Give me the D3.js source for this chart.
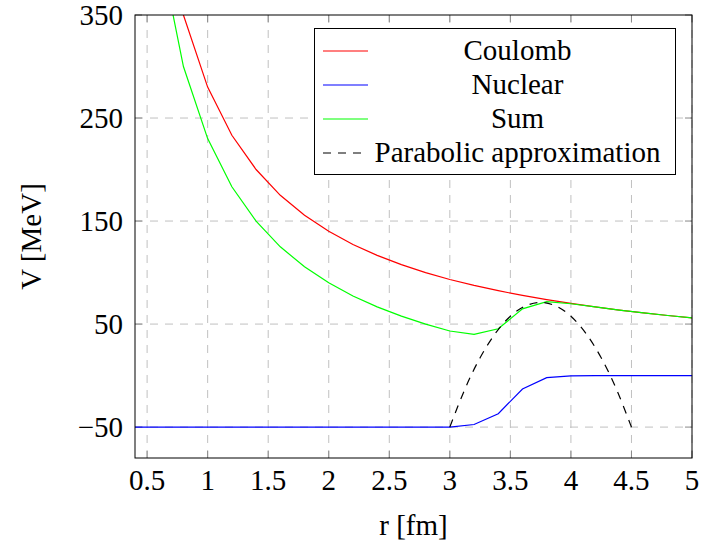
<!DOCTYPE html>
<html>
<head>
<meta charset="utf-8">
<script src="https://cdn.jsdelivr.net/npm/d3@7"></script>
<style>
  body { margin: 0; background: #fff; }
  text { font-family: "Liberation Serif", "DejaVu Serif", serif; fill: #000; }
</style>
</head>
<body>
<div id="chart"></div>
<script>
// radius samples [fm]
var radius = [0.4, 0.6, 0.8, 1.0, 1.2, 1.4, 1.6, 1.8, 2.0, 2.2, 2.4, 2.6, 2.8, 3.0,
              3.2, 3.4, 3.6, 3.8, 4.0, 4.2, 4.4, 4.6, 4.8, 5.0];
var coulomb = [700, 466.7, 350, 280, 233.3, 200, 175, 155.6, 140, 127.3, 116.7, 107.7, 100, 93.3,
               87.5, 82.4, 77.8, 73.7, 70, 66.7, 63.6, 60.9, 58.3, 56];
var nuclear = [-50, -50, -50, -50, -50, -50, -50, -50, -50, -50, -50, -50, -50, -50,
               -47.5, -37, -13, -2, -0.3, 0, 0, 0, 0, 0];
var sum = [650, 416.7, 300, 230, 183.3, 150, 125, 105.6, 90, 77.3, 66.7, 57.7, 50, 43.3,
           40, 45.4, 64.8, 71.7, 69.7, 66.7, 63.6, 60.9, 58.3, 56];

// parabolic approximation around the barrier
var paraR = [3.0, 3.125, 3.25, 3.375, 3.5, 3.625, 3.75, 3.875, 4.0, 4.125, 4.25, 4.375, 4.5];
var paraV = [-50, -13, 17.3, 40.8, 57.6, 67.6, 71, 67.6, 57.6, 40.8, 17.3, -13, -50];

var xTicks = [0.5, 1, 1.5, 2, 2.5, 3, 3.5, 4, 4.5, 5];
var yTicks = [-50, 50, 150, 250, 350];
var legendNames = ['Coulomb', 'Nuclear', 'Sum', 'Parabolic approximation'];
var legendColours = ['#ff0000', '#0000ff', '#00ff00', '#000000'];

var width = 702, height = 550;
var plotLeft = 135, plotRight = 692, plotTop = 15, plotBottom = 458;
var fontSize = 29;

var svg = d3.select('#chart').append('svg')
  .attr('width', width)
  .attr('height', height);

var x = d3.scaleLinear().domain([0.4, 5]).range([plotLeft, plotRight]);
var y = d3.scaleLinear().domain([-80, 350]).range([plotBottom, plotTop]);

svg.append('clipPath').attr('id', 'plotclip')
  .append('rect')
  .attr('x', plotLeft).attr('y', plotTop)
  .attr('width', plotRight - plotLeft).attr('height', plotBottom - plotTop);

// grid
var grid = svg.append('g').attr('stroke', '#c0c0c0').attr('stroke-width', 1)
  .attr('stroke-dasharray', '8,7');
grid.selectAll('.vgrid').data(xTicks).enter().append('line')
  .attr('x1', function(d){ return x(d); }).attr('x2', function(d){ return x(d); })
  .attr('y1', plotBottom).attr('y2', plotTop);
grid.selectAll('.hgrid').data(yTicks.slice(0, 4)).enter().append('line')
  .attr('y1', function(d){ return y(d); }).attr('y2', function(d){ return y(d); })
  .attr('x1', plotLeft).attr('x2', plotRight);

// inner tick marks on all four sides
var ticks = svg.append('g').attr('stroke', '#888').attr('stroke-width', 1);
xTicks.forEach(function(t){
  ticks.append('line').attr('x1', x(t)).attr('x2', x(t)).attr('y1', plotBottom).attr('y2', plotBottom - 7);
  ticks.append('line').attr('x1', x(t)).attr('x2', x(t)).attr('y1', plotTop).attr('y2', plotTop + 7);
});
yTicks.forEach(function(t){
  ticks.append('line').attr('y1', y(t)).attr('y2', y(t)).attr('x1', plotLeft).attr('x2', plotLeft + 7);
  ticks.append('line').attr('y1', y(t)).attr('y2', y(t)).attr('x1', plotRight).attr('x2', plotRight - 7);
});

// curves
var plot = svg.append('g').attr('clip-path', 'url(#plotclip)');
function drawSeries(xs, ys, colour, dash, curve){
  var line = d3.line()
    .x(function(d){ return x(d[0]); })
    .y(function(d){ return y(d[1]); })
    .curve(curve || d3.curveLinear);
  plot.append('path')
    .datum(d3.zip(xs, ys))
    .attr('d', line)
    .attr('fill', 'none')
    .attr('stroke', colour)
    .attr('stroke-width', 1.2)
    .attr('stroke-dasharray', dash || null);
}
drawSeries(radius, coulomb, legendColours[0]);
drawSeries(radius, nuclear, legendColours[1]);
drawSeries(radius, sum, legendColours[2]);
drawSeries(paraR, paraV, legendColours[3], '8,7', d3.curveNatural);

// frame
svg.append('rect')
  .attr('x', plotLeft).attr('y', plotTop)
  .attr('width', plotRight - plotLeft).attr('height', plotBottom - plotTop)
  .attr('fill', 'none').attr('stroke', '#000').attr('stroke-width', 1);

// tick labels
svg.selectAll('.xlab').data(xTicks).enter().append('text')
  .attr('x', function(d){ return x(d); })
  .attr('y', 490)
  .attr('text-anchor', 'middle')
  .style('font-size', fontSize + 'px')
  .text(function(d){ return String(d); });
svg.selectAll('.ylab').data(yTicks).enter().append('text')
  .attr('x', 123)
  .attr('y', function(d){ return y(d) + 10; })
  .attr('text-anchor', 'end')
  .style('font-size', fontSize + 'px')
  .text(function(d){ return d < 0 ? '\u2212' + (-d) : String(d); });

// axis titles
svg.append('text')
  .attr('x', (plotLeft + plotRight) / 2).attr('y', 535)
  .attr('text-anchor', 'middle')
  .style('font-size', fontSize + 'px')
  .text('r [fm]');
svg.append('text')
  .attr('transform', 'translate(41,' + (plotTop + plotBottom) / 2 + ') rotate(-90)')
  .attr('text-anchor', 'middle')
  .style('font-size', fontSize + 'px')
  .text('V [MeV]');

// legend
var legend = svg.append('g');
legend.append('rect')
  .attr('x', 314.5).attr('y', 28.5)
  .attr('width', 361).attr('height', 146)
  .attr('fill', '#fff').attr('stroke', '#000').attr('stroke-width', 1);
legendNames.forEach(function(name, i){
  var ry = 51 + i * 34;
  legend.append('line')
    .attr('x1', 323).attr('x2', 368)
    .attr('y1', ry).attr('y2', ry)
    .attr('stroke', legendColours[i]).attr('stroke-width', 1.2)
    .attr('stroke-dasharray', i === 3 ? '8,7' : null);
  legend.append('text')
    .attr('x', 517.5).attr('y', ry + 9)
    .attr('text-anchor', 'middle')
    .style('font-size', fontSize + 'px')
    .text(name);
});
</script>
</body>
</html>
